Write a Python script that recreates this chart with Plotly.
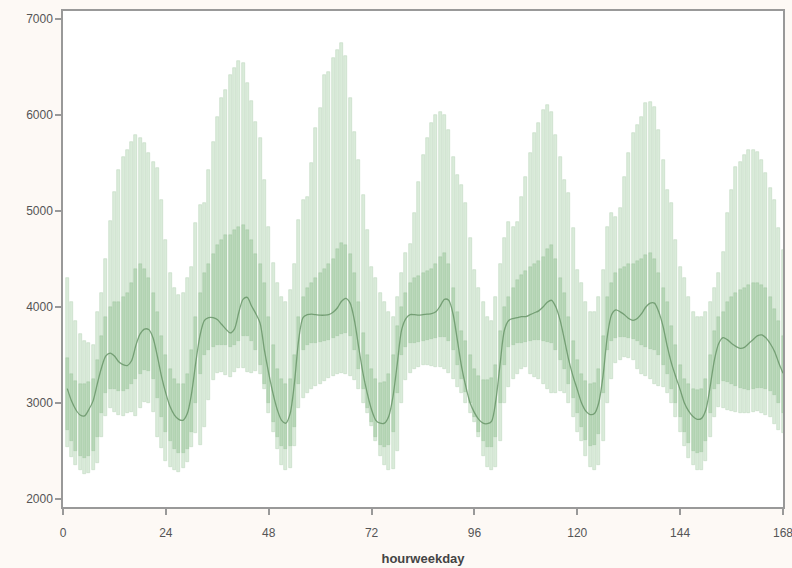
import plotly.graph_objects as go

hours = list(range(1, 169))

max_vals = [
    4300, 4050, 3850, 3720, 3650, 3620, 3600, 3950, 4150, 4500, 4900, 5200, 5430, 5560, 5640, 5720, 5790, 5760, 5710, 5600, 5510, 5450, 5110, 4700,
    4350, 4200, 4120, 4150, 4300, 4420, 4875, 5060, 5080, 5430, 5720, 5980, 6180, 6260, 6420, 6490, 6560, 6540, 6330, 6150, 5930, 5760, 5320, 4830,
    4460, 4250, 4100, 4050, 4180, 4450, 4910, 5115, 5150, 5500, 5865, 6070, 6420, 6450, 6590, 6680, 6750, 6615, 6180, 5825, 5530, 5165, 4800, 4420,
    4300, 4150, 4050, 3950, 3900, 4100, 4350, 4560, 4660, 4980, 5300, 5580, 5760, 5915, 6000, 6030, 6000, 5845, 5565, 5375, 5270, 5080, 4720, 4390,
    4200, 4050, 3900, 3850, 4100, 4450, 4720, 4890, 4830, 4890, 5150, 5355, 5600, 5810, 5915, 6050, 6100, 6030, 5790, 5565, 5320, 5190, 4820, 4390,
    4250, 4050, 3950, 3950, 4100, 4390, 4830, 4980, 4940, 5030, 5355, 5600, 5810, 5895, 5980, 6125, 6140, 6085, 5845, 5530, 5220, 5080, 4700, 4420,
    4300, 4100, 3950, 3900, 3900, 3950, 4050, 4200, 4350, 4575, 4980, 5220, 5460, 5510, 5580, 5635, 5635, 5615, 5530, 5395, 5240, 5115, 4820, 4590,
]

q3_vals = [
    3470, 3300, 3230, 3200, 3200, 3220, 3250, 3450, 3700, 3900, 4000, 4050, 4050, 4100, 4150, 4250, 4400, 4450, 4400, 4300, 4150, 3950, 3700, 3500,
    3350, 3250, 3200, 3200, 3300, 3550, 3900, 4150, 4350, 4450, 4550, 4650, 4700, 4750, 4750, 4800, 4830, 4850, 4800, 4700, 4550, 4450, 4250, 3900,
    3600, 3350, 3250, 3200, 3250, 3500, 3900, 4100, 4200, 4250, 4300, 4350, 4400, 4450, 4500, 4600, 4670, 4650, 4550, 4350, 4050, 3730, 3500, 3350,
    3250, 3210, 3220, 3300, 3500, 3800, 4000, 4150, 4250, 4300, 4320, 4350, 4380, 4400, 4450, 4520, 4560, 4450, 4200, 3950, 3750, 3650, 3500, 3350,
    3280, 3240, 3240, 3260, 3400, 3750, 4000, 4100, 4200, 4280, 4330, 4380, 4420, 4450, 4480, 4520, 4600, 4650, 4500, 4300, 4150, 3900, 3650, 3450,
    3300, 3230, 3200, 3210, 3350, 3700, 4100, 4250, 4350, 4400, 4420, 4450, 4450, 4480, 4500, 4540, 4560, 4500, 4350, 4200, 4050, 3800, 3600, 3400,
    3250, 3200, 3150, 3140, 3150, 3250, 3500, 3750, 3900, 3950, 4050, 4100, 4150, 4180, 4200, 4230, 4250, 4250, 4230, 4200, 4100, 3980, 3850, 3700,
]

median_vals = [
    3150, 3020, 2930, 2875, 2865, 2930, 3020, 3200, 3370, 3490, 3520, 3490, 3430, 3400, 3390, 3440, 3600, 3720, 3770, 3765, 3680, 3490, 3275, 3100,
    2960, 2875, 2830, 2820, 2890, 3100, 3430, 3710, 3860, 3890, 3890, 3870, 3820, 3770, 3730, 3770, 3940, 4080, 4100, 4010, 3930, 3830, 3550, 3310,
    3100, 2930, 2820, 2790, 2890, 3210, 3660, 3890, 3920, 3925, 3920, 3915, 3915, 3920, 3945, 3990, 4060, 4090, 4040, 3860, 3580, 3310, 3100, 2930,
    2820, 2790, 2790, 2860, 3070, 3410, 3760, 3880, 3920, 3920, 3915, 3920, 3925, 3930, 3950, 4010, 4080, 4070, 3930, 3660, 3380, 3170, 3000, 2900,
    2830, 2790, 2785, 2810, 3030, 3410, 3760, 3860, 3880, 3890, 3900, 3900, 3920, 3940, 3960, 4000, 4050, 4070, 4000, 3860, 3660, 3450, 3280, 3140,
    3000, 2915, 2880, 2890, 3000, 3280, 3690, 3920, 3970, 3950, 3920, 3880, 3860, 3880, 3930, 4000, 4040, 4040, 3950, 3800, 3590, 3410, 3270, 3140,
    3000, 2915, 2860, 2830, 2840, 2930, 3170, 3450, 3620, 3680, 3660, 3620, 3590, 3570, 3580, 3620, 3660, 3700, 3710, 3680, 3620, 3540, 3420, 3310,
]

q1_vals = [
    2720, 2600, 2500, 2450, 2430, 2450, 2500, 2650, 2900, 3100, 3150, 3150, 3130, 3130, 3150, 3200, 3250, 3300, 3340, 3330, 3250, 3050, 2850, 2700,
    2600, 2520, 2480, 2480, 2520, 2700, 3000, 3300, 3500, 3550, 3580, 3600, 3600, 3600, 3580, 3600, 3650, 3700, 3700, 3650, 3550, 3400, 3200, 3000,
    2800, 2650, 2550, 2520, 2550, 2750, 3200, 3550, 3600, 3620, 3630, 3640, 3650, 3660, 3680, 3700, 3720, 3730, 3700, 3550, 3350, 3150, 2950, 2800,
    2650, 2560, 2540, 2560, 2700, 3100, 3500, 3580, 3620, 3630, 3640, 3650, 3660, 3670, 3680, 3690, 3690, 3650, 3550, 3400, 3250, 3120, 3000, 2850,
    2700, 2600, 2540, 2540, 2650, 3000, 3400, 3580, 3600, 3620, 3630, 3640, 3650, 3660, 3660, 3650, 3640, 3620, 3550, 3450, 3350, 3200, 3050, 2900,
    2750, 2620, 2550, 2560, 2680, 3100, 3550, 3650, 3680, 3690, 3690, 3680, 3670, 3650, 3600, 3580, 3560, 3550, 3500, 3400, 3300, 3150, 3000, 2850,
    2700, 2580, 2500, 2480, 2490, 2600, 2900, 3150, 3200, 3230, 3220, 3200, 3180, 3160, 3150, 3140, 3150, 3160, 3160, 3150, 3130, 3080, 3000, 2900,
]

min_vals = [
    2540, 2440, 2350, 2300, 2260, 2270, 2300, 2375, 2650, 2860, 2950, 2910, 2875, 2860, 2900, 2910, 2860, 2950, 3010, 3000, 2910, 2650, 2530, 2400,
    2330, 2300, 2280, 2320, 2385, 2540, 2690, 2560, 2750, 3030, 3240, 3310, 3320, 3290, 3270, 3320, 3360, 3360, 3320, 3310, 3330, 3300, 3150, 2900,
    2700, 2520, 2350, 2300, 2320, 2550, 2950, 3050, 3100, 3150, 3180, 3200, 3230, 3260, 3280, 3300, 3310, 3300, 3280, 3240, 3150, 3000, 2900, 2760,
    2600, 2450, 2350, 2300, 2310, 2500, 3000, 3240, 3310, 3350, 3380, 3400, 3400, 3390, 3380, 3370, 3350, 3310, 3250, 3170, 3100, 3000, 2900, 2800,
    2650, 2450, 2330, 2300, 2330, 2600, 3000, 3170, 3250, 3300, 3350, 3380, 3300, 3270, 3250, 3200, 3150, 3100, 3100, 3130, 3100, 3000, 2850, 2700,
    2600, 2450, 2330, 2300, 2350, 2600, 3000, 3250, 3420, 3450, 3480, 3470, 3450, 3350, 3300, 3280, 3250, 3200, 3180, 3170, 3100, 3000, 2850, 2700,
    2550, 2430, 2350, 2300, 2300, 2400, 2650, 2850, 2960, 2950, 2930, 2920, 2910, 2900, 2900, 2900, 2910, 2920, 2900, 2880, 2850, 2780, 2720, 2690,
]

x_ticks = [0, 24, 48, 72, 96, 120, 144, 168]
y_ticks = [2000, 3000, 4000, 5000, 6000, 7000]

whisker_len = [mx - mn for mx, mn in zip(max_vals, min_vals)]
box_len = [a - b for a, b in zip(q3_vals, q1_vals)]

fig = go.Figure()

fig.add_trace(go.Bar(
    x=hours, y=whisker_len, base=min_vals, width=0.7,
    marker=dict(color="rgba(214,233,214,0.9)",
                line=dict(color="rgba(188,214,188,0.9)", width=0.6)),
    hoverinfo="skip", showlegend=False,
))

fig.add_trace(go.Bar(
    x=hours, y=box_len, base=q1_vals, width=0.7,
    marker=dict(color="rgba(150,195,150,0.5)",
                line=dict(color="rgba(130,180,130,0.45)", width=0.5)),
    hoverinfo="skip", showlegend=False,
))

fig.add_trace(go.Scatter(
    x=hours, y=median_vals, mode="lines",
    line=dict(color="rgba(100,145,100,0.8)", width=1.3, shape="spline", smoothing=0.8),
    hoverinfo="skip", showlegend=False,
))

fig.update_layout(
    width=792, height=568,
    autosize=False,
    margin=dict(l=63, r=9, t=11, b=61),
    paper_bgcolor="#fdf9f5",
    plot_bgcolor="white",
    barmode="overlay",
    bargap=0,
    font=dict(family="Liberation Sans, Arial, sans-serif", size=12, color="#555555"),
    xaxis=dict(
        range=[0, 168], tickvals=x_ticks, ticktext=[str(t) for t in x_ticks],
        automargin=False, ticklabeloverflow="allow", ticklabelstandoff=8,
        showgrid=False, zeroline=False,
        showline=True, linecolor="#999999", linewidth=1.5, mirror=True,
        ticks="outside", ticklen=6, tickcolor="#999999", tickwidth=1.5,
        title=dict(text="<b>hourweekday</b>", font=dict(size=13, color="#444444"), standoff=15),
    ),
    yaxis=dict(
        range=[1917, 7083], tickvals=y_ticks, ticktext=[str(t) for t in y_ticks],
        automargin=False,
        showgrid=False, zeroline=False,
        showline=True, linecolor="#999999", linewidth=1.5, mirror=True,
        ticks="outside", ticklen=6, tickcolor="#999999", tickwidth=1.5,
    ),
)

fig.write_html(
    "out.html",
    config={"displayModeBar": False, "responsive": False},
    default_width="792px", default_height="568px",
    post_script="document.body.style.margin='0';document.body.style.overflow='hidden';document.body.style.background='#fdf9f5';",
)
